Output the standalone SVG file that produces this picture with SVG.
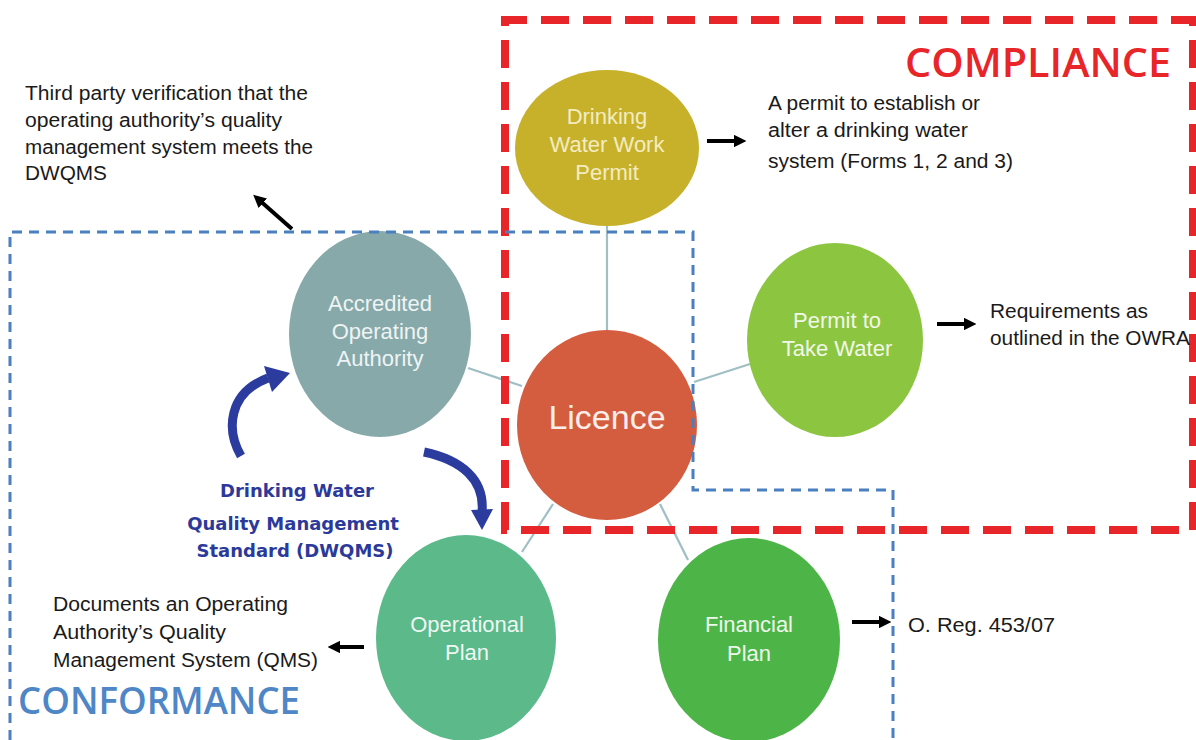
<svg xmlns="http://www.w3.org/2000/svg" width="1196" height="740" viewBox="0 0 1196 740">
<style>
.desc{font-family:"Liberation Sans",Arial,sans-serif;font-size:20px;fill:#1a1a1a}
.ctext{font-family:"Liberation Sans",Arial,sans-serif;font-size:22px;text-anchor:middle}
.link{stroke:#9fbfc4;stroke-width:2.2;fill:none}
.arr{stroke:#000;stroke-width:4;fill:none;marker-end:url(#ah)}
.curve{stroke:#2b3c9e;stroke-width:9;fill:none;stroke-linecap:butt}
.dwq{font-family:"DejaVu Sans",Verdana,sans-serif;font-weight:bold;font-size:18px;fill:#2b3a9a;text-anchor:middle}
.region{font-family:"Open Sans","Liberation Sans",sans-serif;font-weight:600}
</style>
<defs>
<marker id="ah" viewBox="0 0 10 10" refX="5" refY="5" markerWidth="3.2" markerHeight="3.2" orient="auto" markerUnits="strokeWidth">
<path d="M0,0 L10,5 L0,10 z" fill="#000"/>
</marker>
</defs>
<rect width="1196" height="740" fill="#fff"/>

<g id="connectors">
<line class="link" x1="607" y1="226" x2="607" y2="332"/>
<line class="link" x1="468" y1="368" x2="522" y2="386"/>
<line class="link" x1="694" y1="382" x2="750" y2="364"/>
<line class="link" x1="553" y1="504" x2="522" y2="552"/>
<line class="link" x1="660" y1="504" x2="688" y2="560"/>
<line class="arr" x1="292" y1="229" x2="258" y2="199"/>
<line class="arr" x1="707" y1="141" x2="740" y2="141"/>
<line class="arr" x1="937" y1="324" x2="970" y2="324"/>
<line class="arr" x1="852" y1="622" x2="885" y2="622"/>
<line class="arr" x1="364" y1="647" x2="334" y2="647"/>
<path class="curve" d="M241,456 C226,430 228,393 268,378"/>
<path d="M264,366 L290,373 L272,392 z" fill="#2b3c9e"/>
<path class="curve" d="M424,452 C462,460 485,480 482,512"/>
<path d="M471,510 L493,509 L482,530 z" fill="#2b3c9e"/>
</g>

<g id="node-dwwp">
<ellipse cx="607" cy="148" rx="92" ry="78" fill="#c7b12b"/>
<text class="ctext" fill="#f3ecc0" x="607" y="124">Drinking</text>
<text class="ctext" fill="#f3ecc0" x="607" y="152">Water Work</text>
<text class="ctext" fill="#f3ecc0" x="607" y="180">Permit</text>
</g>
<g id="node-aoa">
<ellipse cx="380" cy="334" rx="91" ry="103" fill="#87a9a9"/>
<text class="ctext" fill="#eef4f4" x="380" y="311">Accredited</text>
<text class="ctext" fill="#eef4f4" x="380" y="339">Operating</text>
<text class="ctext" fill="#eef4f4" x="380" y="366">Authority</text>
</g>
<g id="node-licence">
<ellipse cx="607" cy="425" rx="90" ry="95" fill="#d45d3f"/>
<text class="ctext" fill="#fbeee8" x="607" y="429" style="font-size:34px">Licence</text>
</g>
<g id="node-pttw">
<ellipse cx="835" cy="340" rx="88" ry="97" fill="#8cc540"/>
<text class="ctext" fill="#f2f8e8" x="837" y="328">Permit to</text>
<text class="ctext" fill="#f2f8e8" x="837" y="356">Take Water</text>
</g>
<g id="node-op">
<ellipse cx="466" cy="638" rx="90" ry="103" fill="#5bb98a"/>
<text class="ctext" fill="#eef8f2" x="467" y="632">Operational</text>
<text class="ctext" fill="#eef8f2" x="467" y="660">Plan</text>
</g>
<g id="node-fp">
<ellipse cx="749" cy="640" rx="91" ry="102" fill="#4db548"/>
<text class="ctext" fill="#eef8ec" x="749" y="632">Financial</text>
<text class="ctext" fill="#eef8ec" x="749" y="661">Plan</text>
</g>

<g id="regions">
<path d="M505,530 L505,20 L1193,20 L1193,530 Z" fill="none" stroke="#e8262a" stroke-width="8" stroke-dasharray="28,14"/>
<path d="M10,740 L10,232 L693,232 L693,490 L893,490 L893,740" fill="none" stroke="#4a7fc0" stroke-width="3" stroke-dasharray="10,7"/>
<text class="region" x="905" y="77" font-size="40" fill="#e8262a" textLength="266" lengthAdjust="spacingAndGlyphs">COMPLIANCE</text>
<text class="region" x="18" y="714" font-size="38" fill="#4f86c6" textLength="282" lengthAdjust="spacingAndGlyphs">CONFORMANCE</text>
</g>

<g id="texts">
<text class="desc" x="25" y="100" textLength="283" lengthAdjust="spacingAndGlyphs">Third party verification that the</text>
<text class="desc" x="25" y="127" textLength="257" lengthAdjust="spacingAndGlyphs">operating authority’s quality</text>
<text class="desc" x="25" y="154" textLength="288" lengthAdjust="spacingAndGlyphs">management system meets the</text>
<text class="desc" x="25" y="180" textLength="82" lengthAdjust="spacingAndGlyphs">DWQMS</text>

<text class="desc" x="768" y="110" textLength="212" lengthAdjust="spacingAndGlyphs">A permit to establish or</text>
<text class="desc" x="768" y="137" textLength="200" lengthAdjust="spacingAndGlyphs">alter a drinking water</text>
<text class="desc" x="768" y="168" textLength="245" lengthAdjust="spacingAndGlyphs">system (Forms 1, 2 and 3)</text>

<text class="desc" x="990" y="318" textLength="158" lengthAdjust="spacingAndGlyphs">Requirements as</text>
<text class="desc" x="990" y="345" textLength="200" lengthAdjust="spacingAndGlyphs">outlined in the OWRA</text>

<text class="desc" x="908" y="632" textLength="147" lengthAdjust="spacingAndGlyphs">O. Reg. 453/07</text>

<text class="desc" x="53" y="611" textLength="235" lengthAdjust="spacingAndGlyphs">Documents an Operating</text>
<text class="desc" x="53" y="639" textLength="173" lengthAdjust="spacingAndGlyphs">Authority’s Quality</text>
<text class="desc" x="53" y="667" textLength="265" lengthAdjust="spacingAndGlyphs">Management System (QMS)</text>

<text class="dwq" x="297" y="497">Drinking Water</text>
<text class="dwq" x="293" y="530">Quality Management</text>
<text class="dwq" x="295" y="557">Standard  (DWQMS)</text>
</g>
</svg>
